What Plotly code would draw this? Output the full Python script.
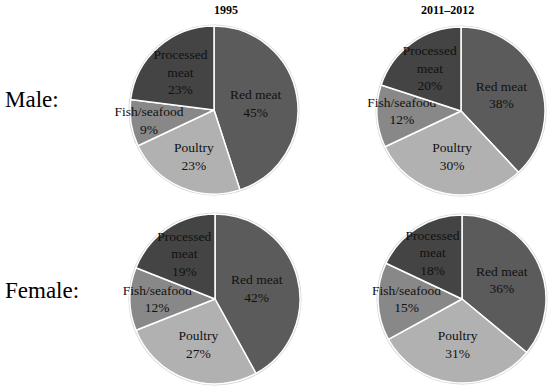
import plotly.graph_objects as go

categories = ["Red meat", "Poultry", "Fish/seafood", "Processed meat"]
male_1995 = [45, 23, 9, 23]
male_2011 = [38, 30, 12, 20]
female_1995 = [42, 27, 12, 19]
female_2011 = [36, 31, 15, 18]
column_titles = ["1995", "2011\u20132012"]
row_titles = ["Male:", "Female:"]

colors = ["#5b5b5b", "#b1b1b1", "#888888", "#444444"]
text_labels = ["Red meat", "Poultry", "Fish/seafood", "Processed<br>meat"]

W, H = 550, 392


def px_x(x):
    return x / W


def px_y(y):
    return 1 - y / H


def dom(cx, cy, r):
    return dict(x=[px_x(cx - r), px_x(cx + r)], y=[px_y(cy + r), px_y(cy - r)])


panels = [
    (male_1995, (214, 110, 84)),
    (male_2011, (461, 111, 84)),
    (female_1995, (215, 299, 85)),
    (female_2011, (462, 299, 84)),
]

fig = go.Figure()
for vals, (cx, cy, r) in panels:
    fig.add_shape(type="circle", xref="paper", yref="paper",
                  x0=px_x(cx - r - 1.5), x1=px_x(cx + r + 1.5),
                  y0=px_y(cy + r + 1.5), y1=px_y(cy - r - 1.5),
                  fillcolor="#d4d4d4", line=dict(width=0), layer="below")
    fig.add_trace(go.Pie(
        labels=categories,
        values=vals,
        text=text_labels,
        texttemplate="%{text}<br>%{value}%",
        textinfo="text",
        sort=False,
        direction="clockwise",
        rotation=0,
        domain=dom(cx, cy, r),
        marker=dict(colors=colors, line=dict(color="#ffffff", width=1.5)),
        textposition="inside",
        insidetextorientation="horizontal",
        textfont=dict(family="Liberation Serif", size=13.5, color="#111111"),
        showlegend=False,
        hoverinfo="label+percent",
    ))

for title, x in zip(column_titles, [226, 447]):
    fig.add_annotation(text="<b>%s</b>" % title, x=px_x(x), y=px_y(10), xref="paper", yref="paper",
                       xanchor="center", yanchor="middle", showarrow=False,
                       font=dict(family="Liberation Serif", size=12, color="#000"))
for title, y in zip(row_titles, [100, 290]):
    fig.add_annotation(text=title, x=px_x(3), y=px_y(y), xref="paper", yref="paper",
                       xanchor="left", yanchor="middle", showarrow=False,
                       font=dict(family="Liberation Serif", size=23, color="#000"))

fig.update_layout(
    width=W, height=H,
    margin=dict(l=0, r=0, t=0, b=0),
    paper_bgcolor="#ffffff",
    plot_bgcolor="#ffffff",
    uniformtext=dict(minsize=13.5, mode="show"),
)

fig.write_html("out.html", config={"displayModeBar": False},
               post_script="document.body.style.margin='0';document.body.style.overflow='hidden';")
